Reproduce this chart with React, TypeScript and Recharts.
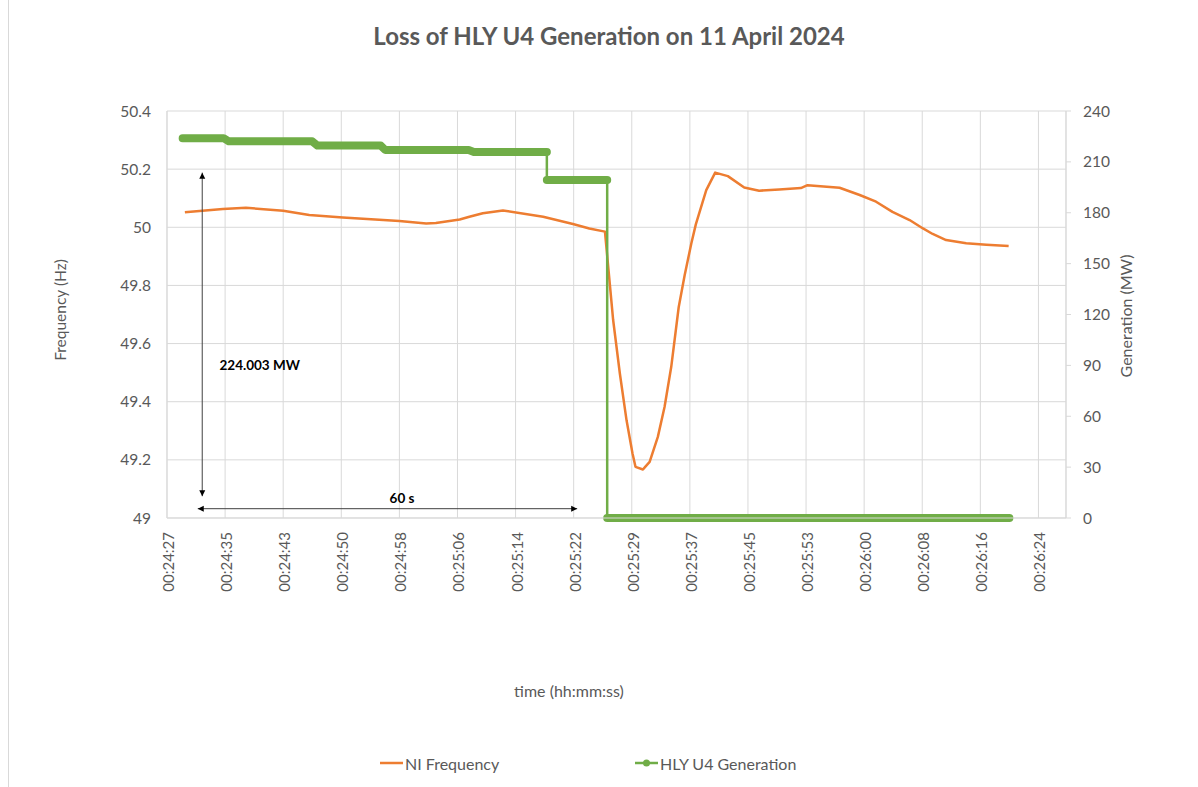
import { LineChart, Line, XAxis, YAxis, CartesianGrid, ReferenceLine, ReferenceDot } from 'recharts';

// time axis: seconds after 00:24:27, Excel major unit ~7.8 s
const TICK_T = [0, 7.8, 15.6, 23.4, 31.2, 39, 46.8, 54.6, 62.4, 70.2, 78, 85.8, 93.6, 101.4, 109.2, 117];
const TICK_LABELS = [
  '00:24:27', '00:24:35', '00:24:43', '00:24:50', '00:24:58', '00:25:06', '00:25:14', '00:25:22',
  '00:25:29', '00:25:37', '00:25:45', '00:25:53', '00:26:00', '00:26:08', '00:26:16', '00:26:24',
];
const HZ_TICKS = [49, 49.2, 49.4, 49.6, 49.8, 50, 50.2, 50.4];
const MW_TICKS = [0, 30, 60, 90, 120, 150, 180, 210, 240];

// NI Frequency (Hz)
const FREQ_T = [
  2.4, 7.5, 10.6, 15.6, 19.1, 23.6, 31.2, 34.8, 36.1, 39.3, 40.6, 42.4, 45.1, 50.5, 54.5, 56.7, 58.8,
  59.9, 60.8, 61.7, 62.5, 62.9, 63.9, 64.2, 64.8, 65.9, 66.8, 67.7, 68.7, 69.5, 70.4, 71.0, 72.4, 73.6,
  75.3, 77.5, 79.5, 82.2, 85.1, 86.0, 90.3, 93.0, 95.2, 97.4, 99.7, 101.5, 102.8, 104.6, 107.3, 110.0, 113.0,
];
const FREQ_HZ = [
  50.052, 50.063, 50.067, 50.057, 50.042, 50.034, 50.022, 50.013, 50.015, 50.027, 50.036, 50.048, 50.058,
  50.036, 50.011, 49.996, 49.985, 49.681, 49.497, 49.336, 49.222, 49.176, 49.167, 49.176, 49.193, 49.279,
  49.382, 49.52, 49.725, 49.835, 49.945, 50.01, 50.128, 50.188, 50.176, 50.137, 50.126, 50.13, 50.135,
  50.145, 50.136, 50.111, 50.088, 50.053, 50.025, 49.996, 49.977, 49.956, 49.945, 49.94, 49.936,
];

// HLY U4 Generation (MW)
const GEN_T = [2.1, 7.6, 8.3, 19.5, 20.2, 28.7, 29.3, 40.5, 41.2, 51.0, 51.0, 59.1, 59.1, 113.1];
const GEN_MW = [224.0, 224.0, 222.1, 222.1, 219.6, 219.6, 217.0, 217.0, 215.8, 215.8, 199.3, 199.3, 0, 0];

const ORANGE = '#ED7D31';
const GREEN = '#70AD47';
const GRID = '#d9d9d9';
const TXT = '#595959';
const FONT = 'Lato, "Open Sans", sans-serif';

const freqData = FREQ_T.map((t, i) => ({ t, hz: FREQ_HZ[i] }));
const genData = GEN_T.map((t, i) => ({ t, mw: GEN_MW[i] }));

// plateaus drawn heavy (Excel markers), the big drops stay thin
const plateaus: { t: number; mw: number }[][] = [];
genData.forEach((p, i) => {
  if (i === 0 || Math.abs(p.mw - genData[i - 1].mw) > 5) plateaus.push([]);
  plateaus[plateaus.length - 1].push(p);
});

function arrowHead(x: number, y: number, a: number) {
  const L = 6, W = 3;
  const bx = x - L * Math.cos(a), by = y - L * Math.sin(a);
  const nx = -Math.sin(a) * W, ny = Math.cos(a) * W;
  return `${x},${y} ${bx + nx},${by + ny} ${bx - nx},${by - ny}`;
}

function DoubleArrow(p: any) {
  const { x1, y1, x2, y2 } = p;
  const a = Math.atan2(y2 - y1, x2 - x1);
  return (
    <g>
      <line x1={x1} y1={y1} x2={x2} y2={y2} stroke="#404040" strokeWidth={1} />
      <polygon points={arrowHead(x2, y2, a)} fill="#000" />
      <polygon points={arrowHead(x1, y1, a + Math.PI)} fill="#000" />
    </g>
  );
}

const note = (text: string, anchor: 'start' | 'middle') => (p: any) => (
  <text x={p.cx} y={p.cy} textAnchor={anchor} dominantBaseline="central" fontSize={13.5} fontWeight={700} fill="#000">
    {text}
  </text>
);

function TimeTick(p: any) {
  const { x, y, payload } = p;
  const i = TICK_T.indexOf(payload.value);
  return (
    <text x={x + 1} y={y} transform={`rotate(-90, ${x + 1}, ${y})`} textAnchor="end" dominantBaseline="central" fontSize={15} fill={TXT}>
      {TICK_LABELS[i]}
    </text>
  );
}

export default function App() {
  return (
    <div style={{ position: 'absolute', left: 0, top: 0, width: 1198, height: 787, background: '#fff', fontFamily: FONT }}>
      <div style={{ position: 'absolute', left: 8, top: 0, width: 1, height: 787, background: GRID }} />
      <LineChart width={1198} height={787} margin={{ top: 111, right: 72, bottom: 169, left: 107 }}>
        <CartesianGrid stroke={GRID} yAxisId="left" />
        <XAxis
          dataKey="t"
          type="number"
          domain={[0, 120.7]}
          ticks={TICK_T}
          interval={0}
          height={100}
          tickLine={false}
          tickSize={6}
          tickMargin={8}
          axisLine={{ stroke: GRID }}
          tick={<TimeTick />}
          allowDuplicatedCategory
        />
        <YAxis
          yAxisId="left"
          type="number"
          domain={[49, 50.4]}
          ticks={HZ_TICKS}
          interval={0}
          width={60}
          tickLine={false}
          tickSize={6}
          tickMargin={10}
          axisLine={{ stroke: GRID }}
          tick={{ fontSize: 15.5, fill: TXT }}
        />
        <YAxis
          yAxisId="right"
          orientation="right"
          type="number"
          domain={[0, 240]}
          ticks={MW_TICKS}
          interval={0}
          width={60}
          tickLine={{ stroke: GRID }}
          tickSize={5}
          tickMargin={12}
          axisLine={{ stroke: GRID }}
          tick={{ fontSize: 15.5, fill: TXT, textAnchor: 'start' }}
        />
        <Line
          yAxisId="left"
          data={freqData}
          dataKey="hz"
          type="linear"
          stroke={ORANGE}
          strokeWidth={2.5}
          strokeLinejoin="round"
          dot={false}
          isAnimationActive={false}
        />
        <Line
          yAxisId="right"
          data={genData}
          dataKey="mw"
          type="linear"
          stroke={GREEN}
          strokeWidth={2.5}
          dot={false}
          isAnimationActive={false}
        />
        {plateaus.map((seg, i) => (
          <Line
            key={i}
            yAxisId="right"
            data={seg}
            dataKey="mw"
            type="linear"
            stroke={GREEN}
            strokeWidth={8}
            strokeLinecap="round"
            strokeLinejoin="round"
            dot={false}
            isAnimationActive={false}
          />
        ))}
        <ReferenceLine yAxisId="left" segment={[{ x: 4.73, y: 50.188 }, { x: 4.73, y: 49.075 }]} shape={DoubleArrow} ifOverflow="visible" />
        <ReferenceLine yAxisId="left" segment={[{ x: 4.13, y: 49.032 }, { x: 55.07, y: 49.032 }]} shape={DoubleArrow} ifOverflow="visible" />
        <ReferenceDot yAxisId="left" x={7.05} y={49.526} r={0} shape={note('224.003 MW', 'start')} ifOverflow="visible" />
        <ReferenceDot yAxisId="left" x={31.55} y={49.07} r={0} shape={note('60 s', 'middle')} ifOverflow="visible" />
      </LineChart>
      <svg width={1198} height={787} style={{ position: 'absolute', left: 0, top: 0, pointerEvents: 'none' }}>
        <text x={609} y={45} textAnchor="middle" fontSize={24} fontWeight={700} fill={TXT}>
          Loss of HLY U4 Generation on 11 April 2024
        </text>
        <text transform="translate(60,310) rotate(-90)" textAnchor="middle" dominantBaseline="central" fontSize={15.5} fill={TXT}>
          Frequency (Hz)
        </text>
        <text transform="translate(1125,316) rotate(-90)" textAnchor="middle" dominantBaseline="central" fontSize={16} fill={TXT}>
          Generation (MW)
        </text>
        <text x={569} y={690} textAnchor="middle" dominantBaseline="central" fontSize={16} fill={TXT}>
          time (hh:mm:ss)
        </text>
        <line x1={380} y1={763} x2={403} y2={763} stroke={ORANGE} strokeWidth={2.5} />
        <text x={405} y={763} dominantBaseline="central" fontSize={16} fill={TXT}>NI Frequency</text>
        <line x1={635} y1={763} x2={658} y2={763} stroke={GREEN} strokeWidth={2.5} />
        <circle cx={646.5} cy={763} r={3.5} fill={GREEN} />
        <text x={660} y={763} dominantBaseline="central" fontSize={16} fill={TXT}>HLY U4 Generation</text>
      </svg>
    </div>
  );
}
